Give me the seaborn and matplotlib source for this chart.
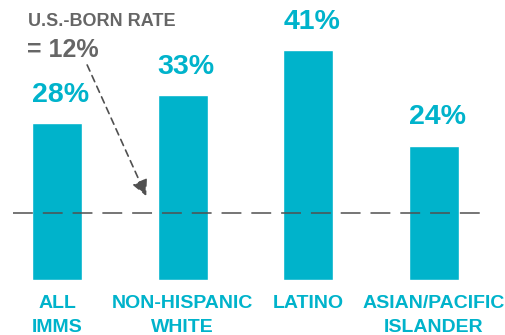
import matplotlib
matplotlib.use("Agg")
import matplotlib.pyplot as plt
import seaborn as sns
import pandas as pd

# Share of each group in the chart
categories = ["ALL\nIMMS", "NON-HISPANIC\nWHITE", "LATINO", "ASIAN/PACIFIC\nISLANDER"]
values = [28, 33, 41, 24]
value_labels = ["28%", "33%", "41%", "24%"]
us_born_rate = 12
note_lines = ["U.S.-BORN RATE", "= 12%"]

TEAL = "#00B3CB"
GREY = "#666666"
LINE = "#505050"

sns.set_theme(style="white")
plt.rcParams["font.family"] = ["Liberation Sans", "DejaVu Sans"]

W, H = 506, 335
fig = plt.figure(figsize=(W / 100, H / 100), dpi=100)

# axes: baseline 55 px above the bottom edge, 5.6 px per percentage point
px_per_unit_x = 125.67
left_px = 57 / px_per_unit_x
ax = fig.add_axes([0, 55 / H, 1, 280 / H])

df = pd.DataFrame({"group": categories, "share": values})
sns.barplot(data=df, x="group", y="share", color=TEAL, saturation=1,
            width=0.4, ax=ax, zorder=2)

ax.set_xlim(-left_px, -left_px + W / px_per_unit_x)
ax.set_ylim(0, 280 / 5.6)
for s in ax.spines.values():
    s.set_visible(False)
ax.set_yticks([])
ax.set_xlabel("")
ax.set_ylabel("")
ax.tick_params(axis="x", length=0, pad=11)
for lab in ax.get_xticklabels():
    lab.set_fontsize(14)
    lab.set_fontweight("bold")
    lab.set_color(TEAL)
    lab.set_multialignment("center")
    lab.set_linespacing(1.55)

# value labels above each bar, aligned with the bar's left edge
for i, (v, t) in enumerate(zip(values, value_labels)):
    ax.annotate(t, xy=(i - 0.2, v), xytext=(0, 11), textcoords="offset points",
                ha="left", va="bottom", fontsize=20.5, fontweight="bold",
                color=TEAL, zorder=3)

# U.S.-born reference line
ax.hlines(us_born_rate, -0.35, 3.43, colors=LINE, linewidth=1.1,
          linestyles=(0, (13, 6.5)), zorder=3)

# note text and arrow pointing to the reference line
fig.text(28 / W, 1 - 13 / H, note_lines[0], ha="left", va="top",
         fontsize=13, fontweight="bold", color=GREY)
fig.text(27 / W, 1 - 38 / H, note_lines[1], ha="left", va="top",
         fontsize=18, fontweight="bold", color=GREY)
ax.annotate("", xy=(0.71, 15.0), xytext=(0.24, 38.4),
            arrowprops=dict(arrowstyle="-|>,head_length=0.8,head_width=0.4",
                            color=LINE, lw=1.2, linestyle=(0, (4, 3)),
                            shrinkA=0, shrinkB=0),
            zorder=3)

fig.savefig("out.png", dpi=100)
